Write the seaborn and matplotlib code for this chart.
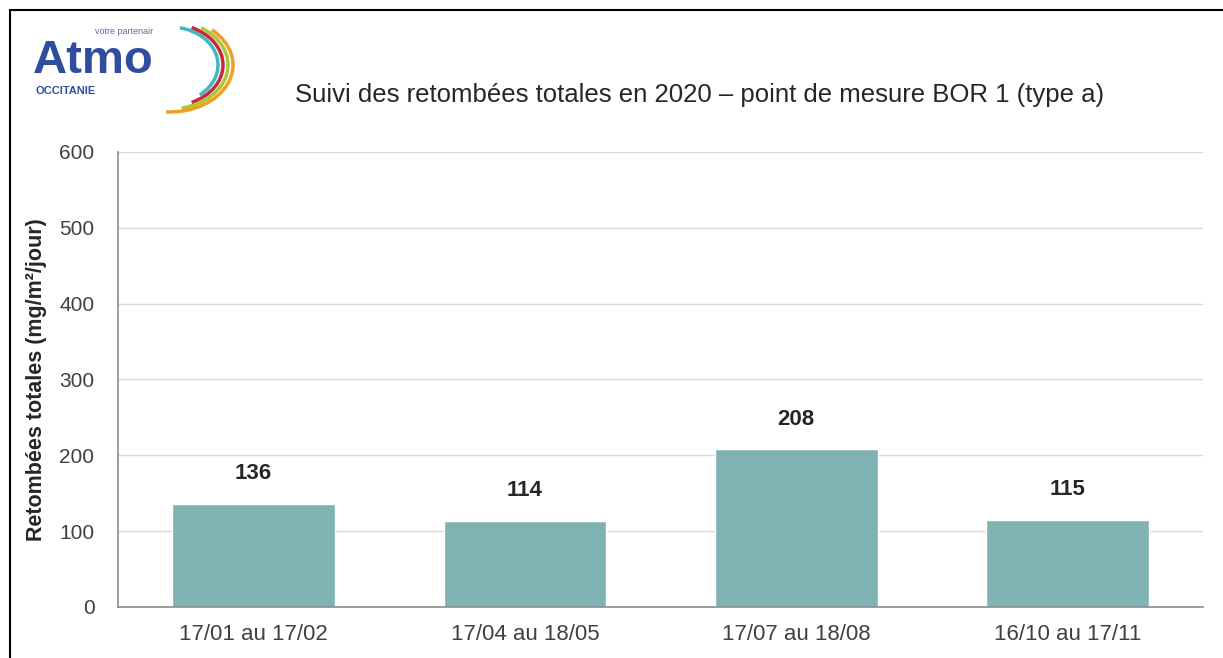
import matplotlib
matplotlib.use("Agg")
import matplotlib.pyplot as plt
import seaborn as sns
import pandas as pd
from matplotlib.patches import Arc, Rectangle

periods = ["17/01 au 17/02", "17/04 au 18/05", "17/07 au 18/08", "16/10 au 17/11"]
retombees = [136, 114, 208, 115]
yticks = [0, 100, 200, 300, 400, 500, 600]

data = pd.DataFrame({"periode": periods, "valeur": retombees})

sns.set_style("white")
plt.rcParams['font.family'] = ['Liberation Sans', 'DejaVu Sans']

fig = plt.figure(figsize=(12.23, 6.58), dpi=100)
ax = fig.add_axes([118/1223, 1 - 607/658, (1203-118)/1223, (607-152)/658])

sns.barplot(data=data, x="periode", y="valeur", order=periods, color="#7fb3b3",
            width=0.6, saturation=1, ax=ax)

ax.set_ylim(0, 600)
ax.set_xlim(-0.5, len(periods) - 0.5)
ax.set_yticks(yticks)
ax.yaxis.grid(True, color="#d9d9d9", linewidth=1)
ax.set_axisbelow(True)
for s in ["top", "right"]:
    ax.spines[s].set_visible(False)
for s in ["left", "bottom"]:
    ax.spines[s].set_color("#8c8c8c")
    ax.spines[s].set_linewidth(1.2)

# category boundaries as tick marks, labels centered without ticks
ax.set_xticks([i - 0.5 for i in range(len(periods) + 1)], minor=True)
ax.tick_params(axis="x", which="minor", length=6, color="#8c8c8c", direction="out")
ax.tick_params(axis="x", which="major", length=0, pad=12, labelsize=16, labelcolor="#404040")
ax.tick_params(axis="y", length=7, color="#8c8c8c", direction="out", pad=10,
               labelsize=15, labelcolor="#404040")
ax.set_xlabel("")
ax.set_ylabel("Retombées totales (mg/m²/jour)", fontsize=15.5, fontweight="bold",
              color="#262626", labelpad=9)

ax.bar_label(ax.containers[0], padding=14, fontsize=16, fontweight="bold", color="#262626")

fig.text(700/1223, 1 - 95/658, "Suivi des retombées totales en 2020 – point de mesure BOR 1 (type a)",
         ha="center", va="center", fontsize=18.5, color="#262626")

# outer frame
fig.patches.append(Rectangle((10/1223, -0.1), 1.2, 1 - 10/658 + 0.1, transform=fig.transFigure,
                             fill=False, edgecolor="black", linewidth=1.5))

# logo (1 unit = 1 pixel, origin at figure pixel (25, 15))
lg = fig.add_axes([25/1223, 1 - 115/658, 220/1223, 100/658])
lg.set_xlim(0, 220)
lg.set_ylim(100, 0)
lg.set_aspect("equal")
lg.axis("off")
lg.text(8, 46, "Atmo", fontsize=34, fontweight="bold", color="#2f4d9e",
        va="center", ha="left")
lg.text(10, 76, "OCCITANIE", fontsize=8, fontweight="bold", color="#2f4d9e",
        va="center", ha="left")
lg.text(70, 17, "votre partenair", fontsize=6.5, color="#5a6aa8",
        va="center", ha="left")
arcs = [("#3fb8c0", 48, 38, -75, 45), ("#c8283c", 53, 41, -60, 60),
        ("#a8c83a", 58, 44, -50, 75), ("#f0a020", 63, 47, -40, 95)]
for col, rx, ry, t1, t2 in arcs:
    lg.add_patch(Arc((145, 50), 2*rx, 2*ry, theta1=t1, theta2=t2,
                     color=col, linewidth=2.5))

fig.savefig("out.png", dpi=100)
